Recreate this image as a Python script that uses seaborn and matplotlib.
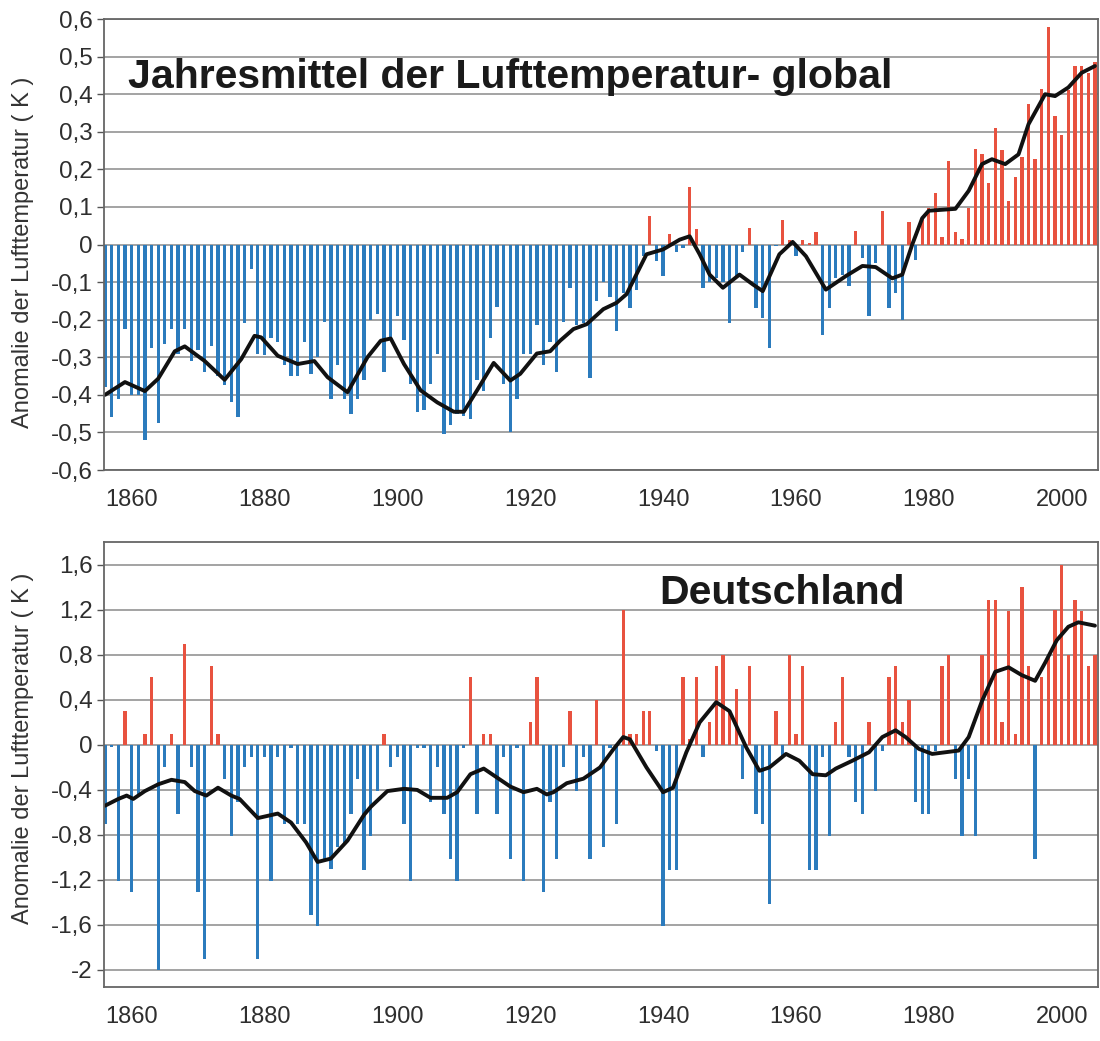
import numpy as np
import matplotlib
matplotlib.use("Agg")
import matplotlib.pyplot as plt
import seaborn as sns
import pandas as pd

# annual anomalies 1856-2005
years = list(range(1856, 2006))

global_anom = [
    -0.38, -0.46, -0.41, -0.225, -0.40, -0.40, -0.52, -0.275, -0.475, -0.265,   # 1856-1865
    -0.225, -0.29, -0.225, -0.31, -0.28, -0.34, -0.27, -0.35, -0.375, -0.42,    # 1866-1875
    -0.46, -0.21, -0.065, -0.29, -0.295, -0.25, -0.26, -0.32, -0.35, -0.35,     # 1876-1885
    -0.26, -0.345, -0.30, -0.205, -0.41, -0.32, -0.41, -0.45, -0.41, -0.36,     # 1886-1895
    -0.20, -0.185, -0.34, -0.25, -0.19, -0.255, -0.37, -0.445, -0.44, -0.37,    # 1896-1905
    -0.29, -0.505, -0.48, -0.45, -0.455, -0.465, -0.36, -0.39, -0.25, -0.165,   # 1906-1915
    -0.37, -0.50, -0.41, -0.29, -0.29, -0.215, -0.32, -0.26, -0.34, -0.205,     # 1916-1925
    -0.115, -0.215, -0.21, -0.355, -0.15, -0.10, -0.14, -0.23, -0.13, -0.17,    # 1926-1935
    -0.12, -0.03, 0.075, -0.045, -0.085, 0.027, -0.02, -0.01, 0.152, 0.04,      # 1936-1945
    -0.115, -0.10, -0.09, -0.10, -0.21, -0.09, -0.02, 0.043, -0.17, -0.195,     # 1946-1955
    -0.275, -0.005, 0.064, 0.013, -0.03, 0.013, 0.005, 0.033, -0.24, -0.17,     # 1956-1965
    -0.09, -0.08, -0.11, 0.035, -0.035, -0.19, -0.05, 0.088, -0.17, -0.13,      # 1966-1975
    -0.20, 0.06, -0.04, 0.07, 0.097, 0.136, 0.02, 0.223, 0.033, 0.015,          # 1976-1985
    0.097, 0.255, 0.24, 0.165, 0.31, 0.252, 0.117, 0.18, 0.233, 0.373,          # 1986-1995
    0.227, 0.413, 0.58, 0.342, 0.292, 0.41, 0.475, 0.475, 0.457, 0.486,         # 1996-2005
]

germany_anom = [
    -0.70, -0.02, -1.21, 0.30, -1.31, -0.45, 0.10, 0.60, -2.00, -0.20,         # 1856-1865
    0.10, -0.61, 0.90, -0.20, -1.31, -1.90, 0.70, 0.10, -0.30, -0.81,          # 1866-1875
    -0.51, -0.20, -0.11, -1.90, -0.11, -1.21, -0.11, -0.70, -0.03, -0.70,      # 1876-1885
    -0.70, -1.51, -1.61, -1.03, -1.10, -0.91, -0.88, -0.61, -0.30, -1.11,      # 1886-1895
    -0.81, -0.41, 0.10, -0.20, -0.11, -0.70, -1.21, -0.03, -0.03, -0.51,       # 1896-1905
    -0.20, -0.61, -1.01, -1.21, -0.03, 0.60, -0.61, 0.10, 0.10, -0.61,         # 1906-1915
    -0.11, -1.01, -0.03, -1.21, 0.20, 0.60, -1.31, -0.51, -1.01, -0.20,        # 1916-1925
    0.30, -0.41, -0.11, -1.01, 0.40, -0.91, -0.03, -0.70, 1.20, 0.10,          # 1926-1935
    0.10, 0.30, 0.30, -0.05, -1.61, -1.11, -1.11, 0.60, 0.05, 0.60,            # 1936-1945
    -0.11, 0.20, 0.70, 0.80, 0.30, 0.50, -0.30, 0.70, -0.61, -0.70,            # 1946-1955
    -1.41, 0.30, -0.11, 0.80, 0.10, 0.70, -1.11, -1.11, -0.11, -0.81,          # 1956-1965
    0.20, 0.60, -0.11, -0.51, -0.61, 0.20, -0.41, -0.05, 0.60, 0.70,           # 1966-1975
    0.20, 0.40, -0.51, -0.61, -0.61, -0.05, 0.70, 0.80, -0.30, -0.81,          # 1976-1985
    -0.30, -0.81, 0.80, 1.29, 1.29, 0.20, 1.19, 0.10, 1.40, 0.70,              # 1986-1995
    -1.01, 0.60, 0.80, 1.20, 1.60, 0.80, 1.29, 1.19, 0.70, 0.80,               # 1996-2005
]

# smoothed curves (read at selected years)
global_smooth_years = [1856, 1859, 1862, 1864, 1866.5, 1868, 1871, 1874, 1876.5, 1878.5,
                       1879.5, 1882, 1885, 1887.5, 1889.5, 1892.5, 1895.5, 1897.5, 1899, 1901,
                       1903.5, 1906, 1908.5, 1910, 1912, 1914.5, 1917, 1918.5, 1921,
                       1923, 1924.5, 1926.5, 1928.5, 1931, 1933, 1934.5, 1937.5, 1940, 1942.5,
                       1944, 1945.5, 1947, 1949, 1951.5, 1953.5, 1955, 1957.5, 1959.5, 1961.5,
                       1964.5, 1967.5, 1970, 1972, 1974.5, 1976, 1977.5, 1979, 1980, 1984,
                       1986, 1988, 1989.5, 1991.5, 1993.5, 1995, 1997.5, 1999, 2001, 2003, 2005]
global_smooth = [-0.40, -0.366, -0.39, -0.357, -0.284, -0.271, -0.31, -0.36, -0.305, -0.243,
                 -0.247, -0.296, -0.318, -0.31, -0.353, -0.393, -0.30, -0.256, -0.25, -0.318,
                 -0.388, -0.42, -0.445, -0.445, -0.388, -0.315, -0.362, -0.344, -0.29,
                 -0.284, -0.256, -0.225, -0.212, -0.172, -0.155, -0.132, -0.026, -0.013, 0.013,
                 0.022, -0.026, -0.08, -0.115, -0.08, -0.106, -0.124, -0.026, 0.007, -0.031,
                 -0.12, -0.084, -0.057, -0.06, -0.09, -0.08, 0.0, 0.07, 0.09, 0.095,
                 0.143, 0.214, 0.227, 0.214, 0.24, 0.32, 0.40, 0.395, 0.418, 0.457, 0.475]

germany_smooth_years = [1856, 1858, 1859.25, 1860.25, 1862, 1864, 1866, 1868, 1869.5, 1871.25,
                        1873, 1875, 1876.25, 1879, 1882, 1884, 1886.25, 1888, 1890, 1892.5,
                        1895, 1896, 1898.5, 1901, 1903, 1905, 1907.5, 1909, 1911, 1913,
                        1915, 1917, 1919, 1921, 1922.5, 1923.5, 1925.5, 1928, 1930.5, 1932.5,
                        1934, 1935, 1937.5, 1940, 1941.5, 1943.5, 1945.5, 1948, 1950, 1952.5,
                        1954.5, 1956, 1958.5, 1960.5, 1962.5, 1964.5, 1966, 1968.5, 1971, 1973,
                        1975, 1976.5, 1978.5, 1980.5, 1982.5, 1984.5, 1986, 1988, 1990, 1992,
                        1994, 1996, 1997.5, 1999.25, 2001, 2002.5, 2005]
germany_smooth = [-0.54, -0.48, -0.45, -0.48, -0.41, -0.35, -0.31, -0.33, -0.41, -0.45,
                  -0.38, -0.45, -0.48, -0.65, -0.61, -0.69, -0.865, -1.04, -1.01, -0.85,
                  -0.62, -0.55, -0.41, -0.39, -0.40, -0.47, -0.47, -0.42, -0.26, -0.21,
                  -0.29, -0.37, -0.42, -0.39, -0.44, -0.42, -0.34, -0.30, -0.20, -0.04,
                  0.07, 0.05, -0.20, -0.42, -0.38, -0.065, 0.20, 0.38, 0.30, -0.02,
                  -0.23, -0.20, -0.08, -0.14, -0.26, -0.27, -0.21, -0.14, -0.065, 0.07,
                  0.13, 0.07, -0.035, -0.08, -0.065, -0.05, 0.07, 0.39, 0.65, 0.69,
                  0.62, 0.57, 0.73, 0.93, 1.05, 1.09, 1.06]

xticks = [1860, 1880, 1900, 1920, 1940, 1960, 1980, 2000]
top_yticks = [0.6, 0.5, 0.4, 0.3, 0.2, 0.1, 0.0, -0.1, -0.2, -0.3, -0.4, -0.5, -0.6]
bottom_yticks = [1.6, 1.2, 0.8, 0.4, 0.0, -0.4, -0.8, -1.2, -1.6, -2.0]

blue = "#2b7bbd"
red = "#e8523f"

sns.set_style("white")
plt.rcParams['font.family'] = ['Liberation Sans', 'DejaVu Sans']


def fmt(v):
    if abs(v) < 1e-9:
        return "0"
    if abs(v - round(v)) < 1e-9:
        return str(int(round(v)))
    return f"{v:.1f}".replace(".", ",")


def draw_panel(ax, values, sm_years, sm_values, yticks, ylim, title, title_xy):
    df = pd.DataFrame({"year": years, "value": values})
    df["sign"] = np.where(df["value"] >= 0, "pos", "neg")
    ax.set_axisbelow(True)
    ax.yaxis.grid(True, color="#a3a3a3", linewidth=1.4)
    sns.barplot(data=df, x="year", y="value", hue="sign",
                palette={"pos": red, "neg": blue}, native_scale=True,
                dodge=False, width=0.5, saturation=1, errorbar=None,
                legend=False, ax=ax, linewidth=0)
    sns.lineplot(x=sm_years, y=sm_values, color="#111111", linewidth=2.8, ax=ax,
                 solid_joinstyle="round", solid_capstyle="round")
    ax.set_xlim(1855.77, 2005.45)
    ax.set_ylim(*ylim)
    ax.set_xticks(xticks)
    ax.set_xticklabels([str(t) for t in xticks])
    ax.set_yticks(yticks)
    ax.set_yticklabels([fmt(t) for t in yticks])
    ax.tick_params(axis="x", length=0, pad=14, labelsize=17, labelcolor="#2e2e2e")
    ax.tick_params(axis="y", length=5, width=1, color="#555555", pad=3,
                   labelsize=17.5, labelcolor="#2e2e2e", left=True)
    ax.set_xlabel("")
    ax.set_ylabel("Anomalie der Lufttemperatur ( K )", fontsize=17, color="#333333")
    for s in ax.spines.values():
        s.set_color("#666666")
        s.set_linewidth(1.3)
    ax.text(title_xy[0], title_xy[1], title, transform=ax.transAxes,
            fontsize=29.5, fontweight="bold", color="#1a1a1a", ha="left", va="center")


fig = plt.figure(figsize=(11, 10.41), dpi=100)
ax1 = fig.add_axes([0.0941, 0.5485, 0.904, 0.4332])
ax2 = fig.add_axes([0.0941, 0.0519, 0.904, 0.4275])

draw_panel(ax1, global_anom, global_smooth_years, global_smooth, top_yticks, (-0.6, 0.6),
           "Jahresmittel der Lufttemperatur- global", (0.025, 0.871))
draw_panel(ax2, germany_anom, germany_smooth_years, germany_smooth, bottom_yticks, (-2.151, 1.804),
           "Deutschland", (0.559, 0.885))

ax1.yaxis.set_label_coords(-0.07, 0.483)
ax2.yaxis.set_label_coords(-0.07, 0.537)

fig.savefig("out.png", dpi=100)
